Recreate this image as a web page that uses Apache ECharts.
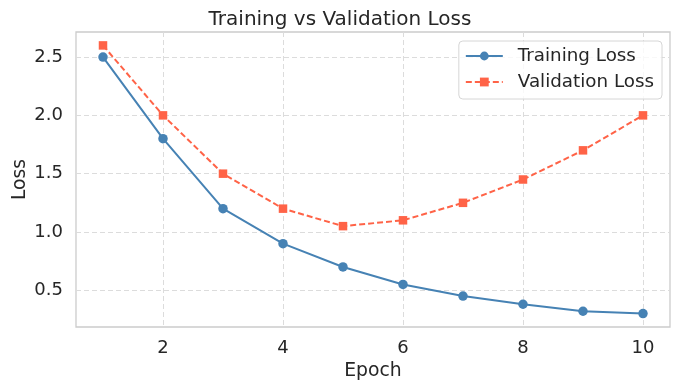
<!DOCTYPE html>
<html>
<head>
<meta charset="utf-8">
<script src="https://cdn.jsdelivr.net/npm/echarts@6/dist/echarts.min.js"></script>
<style>html,body{margin:0;padding:0;background:#fff}#c{width:680px;height:392px}</style>
</head>
<body>
<div id="c"></div>
<script>
const epochs = [1, 2, 3, 4, 5, 6, 7, 8, 9, 10];
const trainingLoss = [2.5, 1.8, 1.2, 0.9, 0.7, 0.55, 0.45, 0.38, 0.32, 0.30];
const validationLoss = [2.6, 2.0, 1.5, 1.2, 1.05, 1.1, 1.25, 1.45, 1.7, 2.0];
const xTicks = [2, 4, 6, 8, 10];
const yTicks = [0.5, 1.0, 1.5, 2.0, 2.5];

const font = 'DejaVu Sans';
const chart = echarts.init(document.getElementById('c'), null, {renderer: 'canvas'});
chart.setOption({
  backgroundColor: '#ffffff',
  animation: false,
  title: {
    text: 'Training vs Validation Loss',
    left: 'center', top: 5,
    textStyle: {fontFamily: font, fontSize: 20, fontWeight: 'normal', color: '#262626'}
  },
  legend: {
    right: 18, top: 41,
    orient: 'vertical',
    itemWidth: 37, itemHeight: 11, itemGap: 8,
    padding: [6, 8, 8, 6],
    borderColor: '#d6d6d6', borderWidth: 1, borderRadius: 4,
    backgroundColor: 'rgba(255,255,255,0.8)',
    textStyle: {fontFamily: font, fontSize: 18.3, lineHeight: 18, color: '#262626', padding: [0, 0, 0, 10]},
    data: ['Training Loss', 'Validation Loss']
  },
  grid: {
    left: 76, right: 10, top: 32, bottom: 65,
    outerBoundsMode: 'none', containLabel: false,
    show: true, borderColor: '#cccccc', borderWidth: 1.3, backgroundColor: '#ffffff'
  },
  xAxis: {
    type: 'value', min: 0.55, max: 10.45,
    name: 'Epoch', nameLocation: 'middle', nameGap: 35, nameMoveOverlap: false,
    nameTextStyle: {fontFamily: font, fontSize: 18.8, color: '#262626'},
    axisLine: {show: false},
    axisTick: {show: false, customValues: xTicks},
    axisLabel: {customValues: xTicks, fontFamily: font, fontSize: 18, color: '#262626', margin: 12},
    splitLine: {show: true, lineStyle: {color: '#dcdcdc', type: [5, 3], width: 1}}
  },
  yAxis: {
    type: 'value', min: 0.185, max: 2.715,
    name: 'Loss', nameLocation: 'middle', nameGap: 46, nameRotate: 90, nameMoveOverlap: false,
    nameTextStyle: {fontFamily: font, fontSize: 18.8, color: '#262626'},
    axisLine: {show: false},
    axisTick: {show: false, customValues: yTicks},
    axisLabel: {customValues: yTicks, fontFamily: font, fontSize: 18, color: '#262626', margin: 13,
      formatter: v => v.toFixed(1)},
    splitLine: {show: true, lineStyle: {color: '#dcdcdc', type: [5, 3], width: 1}}
  },
  series: [
    {
      name: 'Training Loss', type: 'line',
      data: epochs.map((e, i) => [e, trainingLoss[i]]),
      symbol: 'circle', symbolSize: 9.5,
      itemStyle: {color: '#4682B4'},
      lineStyle: {color: '#4682B4', width: 2}
    },
    {
      name: 'Validation Loss', type: 'line',
      data: epochs.map((e, i) => [e, validationLoss[i]]),
      symbol: 'rect', symbolSize: 8.5,
      itemStyle: {color: '#FF6347'},
      lineStyle: {color: '#FF6347', width: 2, type: [6, 3]}
    }
  ]
});
</script>
</body>
</html>
